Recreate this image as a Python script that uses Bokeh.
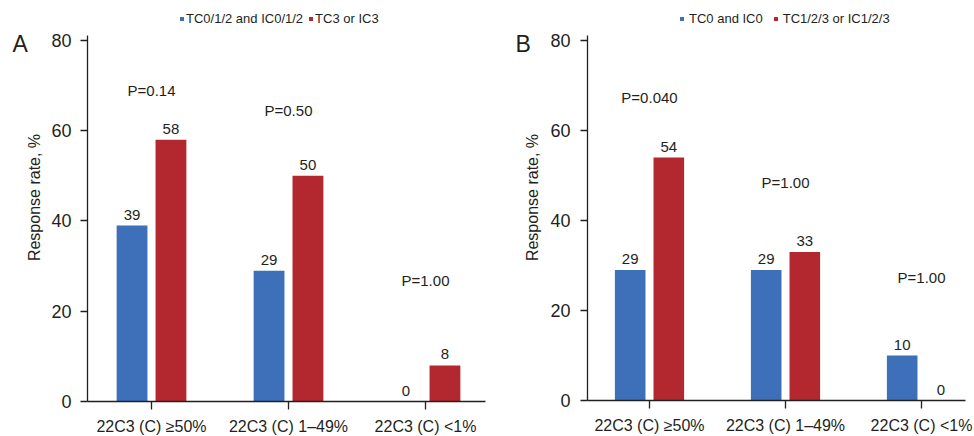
import math
from bokeh.plotting import figure
from bokeh.layouts import row
from bokeh.models import (ColumnDataSource, FixedTicker, Range1d, Legend, LegendItem, Label)
from bokeh.transform import dodge
from bokeh.core.properties import value
from bokeh.embed import file_html
from bokeh.resources import INLINE

# ---------------- data ----------------
categories = ["22C3 (C) \u226550%", "22C3 (C) 1\u201349%", "22C3 (C) <1%"]
y_ticks = [0, 20, 40, 60, 80]
y_label = "Response rate, %"

a_series = ["TC0/1/2 and IC0/1/2", "TC3 or IC3"]
a_low = [39, 29, 0]
a_high = [58, 50, 8]
a_pvalues = ["P=0.14", "P=0.50", "P=1.00"]

b_series = ["TC0 and IC0", "TC1/2/3 or IC1/2/3"]
b_low = [29, 29, 10]
b_high = [54, 33, 0]
b_pvalues = ["P=0.040", "P=1.00", "P=1.00"]

# ---------------- layout / style ----------------
a_p_y = [68.9, 64.5, 26.8]
b_p_y = [67.3, 48.4, 27.3]
Y_TOP = 81.1

FONT = "Liberation Sans"
TEXT = "#231F20"
BLUE = "#3D70B9"
RED = "#B3282E"
OFF = 0.142
BW = 0.225
W, H = 487, 436


def panel(letter, series, low, high, pvalues, p_y, view_x, view_y, axis_x, axis_x_end,
          legend_x, standoff, spacing, tick_standoff, letter_x, ylab_x):
    xs = list(range(len(categories)))
    p = figure(width=W, height=H, x_range=Range1d(*view_x), y_range=Range1d(*view_y),
               output_backend="svg", toolbar_location=None,
               min_border_left=0, min_border_right=0, min_border_top=0, min_border_bottom=0)
    p.outline_line_color = None
    p.grid.visible = False
    p.background_fill_color = "white"
    p.border_fill_color = "white"

    src = ColumnDataSource(dict(x=xs, low=low, high=high,
                                low_lab=[str(v) for v in low],
                                high_lab=[str(v) for v in high]))
    r1 = p.vbar(x=dodge("x", -OFF, range=p.x_range), top="low", width=BW, source=src,
                fill_color=BLUE, line_color=None)
    r2 = p.vbar(x=dodge("x", OFF, range=p.x_range), top="high", width=BW, source=src,
                fill_color=RED, line_color=None)

    common = dict(text_align="center", text_font=value(FONT), text_font_size=value("15px"),
                  text_color=TEXT)
    p.text(x=dodge("x", -OFF, range=p.x_range), y="low", text="low_lab", source=src,
           text_baseline="bottom", y_offset=-6, **common)
    p.text(x=dodge("x", OFF, range=p.x_range), y="high", text="high_lab", source=src,
           text_baseline="bottom", y_offset=-6, **common)

    psrc = ColumnDataSource(dict(x=xs, y=p_y, t=pvalues))
    p.text(x="x", y="y", text="t", source=psrc, text_baseline="middle", **common)

    # axes, drawn at fixed positions inside the full-canvas frame
    for ax in (p.xaxis[0], p.yaxis[0]):
        ax.axis_line_color = TEXT
        ax.axis_line_width = 1.3
        ax.major_tick_line_color = TEXT
        ax.major_tick_line_width = 1.3
        ax.major_tick_in = 0
        ax.minor_tick_in = 0
        ax.minor_tick_out = 0
        ax.major_label_text_font = FONT
        ax.major_label_text_color = TEXT
    p.xaxis.fixed_location = 0
    p.xaxis.bounds = (axis_x, axis_x_end)
    p.xaxis.ticker = FixedTicker(ticks=xs)
    p.xaxis.major_label_overrides = {i: c for i, c in zip(xs, categories)}
    p.xaxis.major_tick_out = 8
    p.xaxis.major_label_standoff = 8
    p.xaxis.major_label_text_font_size = "16px"
    p.yaxis.fixed_location = axis_x
    p.yaxis.bounds = (0, Y_TOP)
    p.yaxis.ticker = FixedTicker(ticks=y_ticks)
    p.yaxis.major_tick_out = 7
    p.yaxis.major_label_standoff = tick_standoff
    p.yaxis.major_label_text_font_size = "18px"

    # legend
    legend = Legend(items=[LegendItem(label=series[0], renderers=[r1]),
                           LegendItem(label=series[1], renderers=[r2])],
                    location=(legend_x, 410), orientation="horizontal",
                    glyph_width=5, glyph_height=5, label_standoff=standoff,
                    spacing=spacing, padding=0, margin=0, border_line_color=None,
                    background_fill_alpha=0, label_text_font=FONT,
                    label_text_font_size="13px", label_height=13,
                    label_text_color=TEXT, label_text_baseline="middle")
    p.add_layout(legend)

    # panel letter and y-axis title
    p.add_layout(Label(x=letter_x, y=H - 43, x_units="screen", y_units="screen", text=letter,
                       text_font=FONT, text_font_size="23px", text_color=TEXT,
                       text_baseline="alphabetic"))
    p.add_layout(Label(x=ylab_x, y=H - 197, x_units="screen", y_units="screen",
                       text=y_label, angle=math.pi / 2,
                       text_align="center", text_baseline="middle",
                       text_font=FONT, text_font_size="16px", text_color=TEXT))
    return p


pa = panel("A", a_series, a_low, a_high, a_pvalues, a_p_y,
           (-1.1022, 2.4526), (-7.756, 88.864), -0.467, 2.438,
           179, 2, 5, 9, 12, 33.5)
pb = panel("B", b_series, b_low, b_high, b_pvalues, b_p_y,
           (-1.1912, 2.3897), (-8.0, 88.889), -0.456, 2.324,
           192, 5, 10, 10, 28, 44.5)

layout = row(pa, pb)
open("out.html", "w").write(file_html(layout, INLINE))
